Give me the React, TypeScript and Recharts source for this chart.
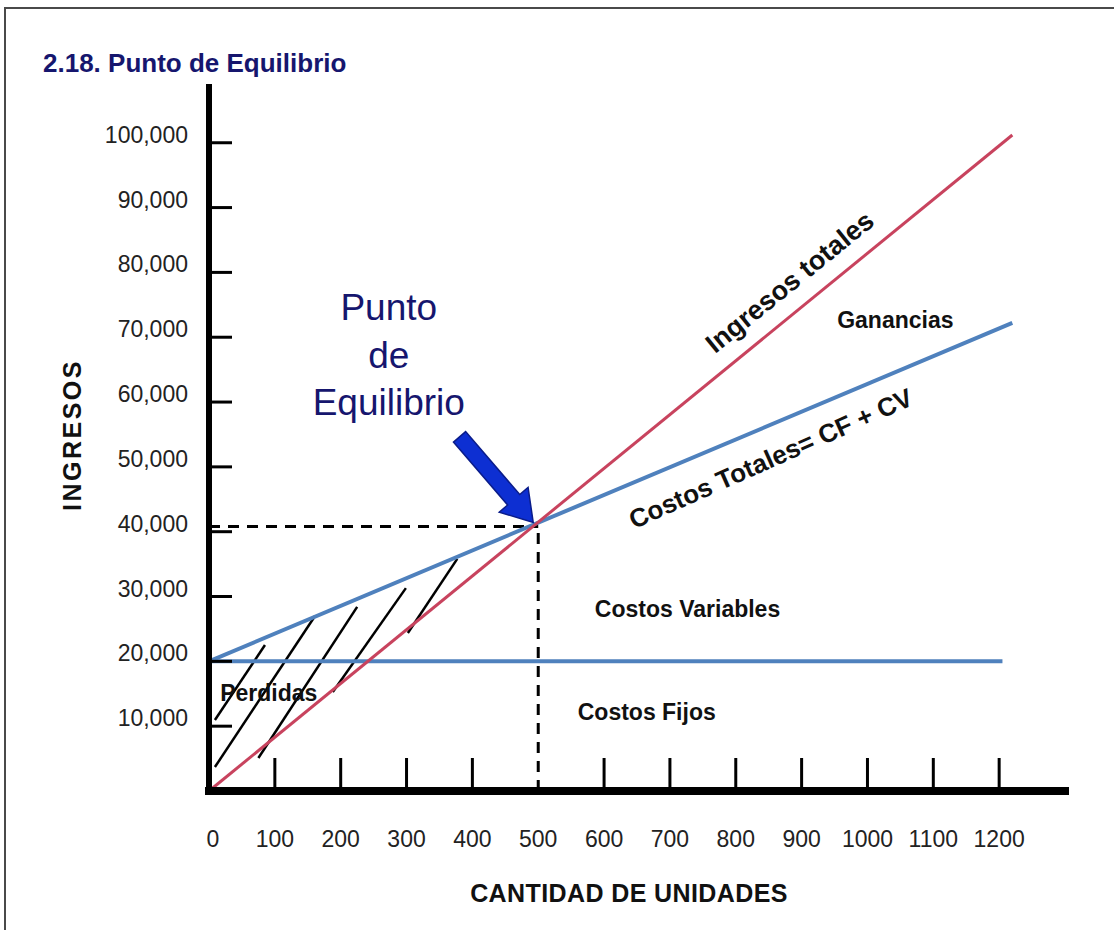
import React from "react"
import { LineChart, Line, XAxis, YAxis, ReferenceLine, ReferenceDot } from "recharts"

const FONT = "'Liberation Sans', Arial, Helvetica, sans-serif"
const NAVY = "#16166e"
const RED = "#c8435e"
const BLUE = "#4f81bd"
const ARROW = "#0d2fd2"

// axis ticks
const X_TICKS = [0, 100, 200, 300, 400, 500, 600, 700, 800, 900, 1000, 1100, 1200]
const Y_TICKS = [10000, 20000, 30000, 40000, 50000, 60000, 70000, 80000, 90000, 100000]

// lines (unidades -> pesos)
const ingresosTotales = [{ q: 0, v: 0 }, { q: 1220, v: 101200 }]
const costosTotales = [{ q: 0, v: 20000 }, { q: 1220, v: 72200 }]
const costosFijos = [{ q: 0, v: 20000 }, { q: 1205, v: 20000 }]

// punto de equilibrio
const BE_Q = 500
const BE_V = 40800

// hatch strokes in the "Perdidas" area
const hatchA = [{ q: 9, v: 10960 }, { q: 85, v: 22530 }]
const hatchB = [{ q: 9, v: 3700 }, { q: 161, v: 27000 }]
const hatchC = [{ q: 75, v: 5090 }, { q: 225, v: 28400 }]
const hatchD = [{ q: 188, v: 15280 }, { q: 299, v: 31300 }]
const hatchE = [{ q: 302, v: 24380 }, { q: 377, v: 35800 }]
const hatches = [hatchA, hatchB, hatchC, hatchD, hatchE]

// text notes placed in data units
const notes = [
  { text: "Ingresos totales", q: 882, v: 78500, angle: -39, size: 27, anchor: "middle", mid: true },
  { text: "Costos Totales= CF + CV", q: 853, v: 51300, angle: -24, size: 26, anchor: "middle", mid: true },
  { text: "Ganancias", q: 954, v: 71420, angle: 0, size: 23, anchor: "start", mid: false },
  { text: "Costos Variables", q: 586, v: 26840, angle: 0, size: 23, anchor: "start", mid: false },
  { text: "Costos Fijos", q: 560, v: 10950, angle: 0, size: 23, anchor: "start", mid: false },
  { text: "Perdidas", q: 17, v: 13880, angle: 0, size: 23, anchor: "start", mid: false },
]
const titleLines = [
  { text: "Punto", q: 273, v: 72650 },
  { text: "de", q: 273, v: 65250 },
  { text: "Equilibrio", q: 273, v: 58000 },
]

function YTick(props: any) {
  const { x, y, payload } = props
  return (
    <g>
      <line x1={x} x2={x + 23} y1={y} y2={y} stroke="#000" strokeWidth={3} />
      <text x={x - 21} y={y} textAnchor="end" fontSize={23} fill="#222" fontFamily={FONT}>
        {Number(payload.value).toLocaleString("en-US")}
      </text>
    </g>
  )
}

function XTick(props: any) {
  const { x, y, payload } = props
  const v = payload.value
  return (
    <g>
      {v !== 0 && v !== BE_Q && (
        <line x1={x} x2={x} y1={y - 33} y2={y} stroke="#000" strokeWidth={3} />
      )}
      <text x={v === 0 ? x + 4 : x} y={y + 56} textAnchor="middle" fontSize={23} fill="#222" fontFamily={FONT}>
        {v}
      </text>
    </g>
  )
}

function arrowShape(p: any) {
  // arrow tip sits on the break-even point, body goes up-left
  const pts = "0,0 -30,-19 -30,-8 -113,-8 -113,8 -30,8 -30,19"
  return (
    <polygon
      points={pts}
      transform={`translate(${p.cx - 5},${p.cy - 4}) rotate(49.3)`}
      fill={ARROW}
      stroke="#0a1c8a"
      strokeWidth={1.5}
    />
  )
}

export default function App() {
  return (
    <div style={{ position: "absolute", left: 0, top: 0, width: 1114, height: 930, background: "#fff", overflow: "hidden" }}>
      <div
        style={{
          position: "absolute", left: 4, top: 7, width: 1120, height: 930,
          borderTop: "2px solid #4a4a4a", borderLeft: "2px solid #4a4a4a",
        }}
      />
      <div
        style={{
          position: "absolute", left: 43, top: 50, fontFamily: FONT, fontSize: 26,
          fontWeight: 700, lineHeight: 1, color: NAVY, whiteSpace: "nowrap",
        }}
      >
        2.18. Punto de Equilibrio
      </div>
      <div style={{ position: "absolute", left: 0, top: 0 }}>
        <LineChart width={1114} height={930} margin={{ top: 87, right: 49, left: 59, bottom: 0 }}>
          <XAxis
            type="number"
            dataKey="q"
            domain={[0, 1300]}
            ticks={X_TICKS}
            interval={0}
            height={139}
            tickSize={0}
            tickMargin={0}
            tick={<XTick />}
            axisLine={{ stroke: "#000", strokeWidth: 8, strokeLinecap: "square" }}
            label={{
              content: (p: any) => {
                const vb = p.viewBox || { x: 209, y: 791, width: 856 }
                return (
                  <text x={vb.x + vb.width / 2 - 8} y={vb.y + 111} textAnchor="middle" fontSize={25}
                    fontWeight={700} fill="#111" fontFamily={FONT} letterSpacing={0.4}>
                    CANTIDAD DE UNIDADES
                  </text>
                )
              },
            }}
          />
          <YAxis
            type="number"
            domain={[0, 108600]}
            ticks={Y_TICKS}
            interval={0}
            width={150}
            tickSize={0}
            tickMargin={0}
            tick={<YTick />}
            axisLine={{ stroke: "#000", strokeWidth: 6, strokeLinecap: "square" }}
            label={{
              content: (p: any) => {
                const vb = p.viewBox || { x: 59, y: 87, height: 704 }
                const cx = vb.x + 13
                const cy = vb.y + vb.height / 2 - 4
                return (
                  <text x={cx} y={cy} transform={`rotate(-90, ${cx}, ${cy})`} textAnchor="middle"
                    dominantBaseline="central" fontSize={25} fontWeight={700} fill="#111"
                    fontFamily={FONT} letterSpacing={2.5}>
                    INGRESOS
                  </text>
                )
              },
            }}
          />

          <ReferenceLine
            segment={[{ x: 0, y: BE_V }, { x: BE_Q, y: BE_V }]}
            stroke="#000" strokeWidth={3} strokeDasharray="11 8"
          />
          <ReferenceLine
            segment={[{ x: BE_Q, y: 0 }, { x: BE_Q, y: BE_V }]}
            stroke="#000" strokeWidth={3} strokeDasharray="11 8"
          />

          {hatches.map((h, i) => (
            <Line key={`h${i}`} data={h} dataKey="v" stroke="#000" strokeWidth={2.5}
              dot={false} isAnimationActive={false} />
          ))}
          <Line data={costosFijos} dataKey="v" stroke={BLUE} strokeWidth={4} dot={false} isAnimationActive={false} />
          <Line data={costosTotales} dataKey="v" stroke={BLUE} strokeWidth={4} dot={false} isAnimationActive={false} />
          <Line data={ingresosTotales} dataKey="v" stroke={RED} strokeWidth={3} dot={false} isAnimationActive={false} />

          <ReferenceDot x={BE_Q} y={BE_V} r={0} ifOverflow="visible" shape={arrowShape} />

          {notes.map((n) => (
            <ReferenceDot
              key={n.text}
              x={n.q}
              y={n.v}
              r={0}
              ifOverflow="visible"
              shape={(p: any) => (
                <text
                  x={p.cx}
                  y={p.cy}
                  transform={n.angle ? `rotate(${n.angle}, ${p.cx}, ${p.cy})` : undefined}
                  textAnchor={n.anchor}
                  dominantBaseline={n.mid ? "central" : "alphabetic"}
                  fontSize={n.size}
                  fontWeight={700}
                  fill="#111"
                  fontFamily={FONT}
                >
                  {n.text}
                </text>
              )}
            />
          ))}
          {titleLines.map((t) => (
            <ReferenceDot
              key={t.text}
              x={t.q}
              y={t.v}
              r={0}
              ifOverflow="visible"
              shape={(p: any) => (
                <text x={p.cx} y={p.cy} textAnchor="middle" fontSize={37} fill={NAVY} fontFamily={FONT}>
                  {t.text}
                </text>
              )}
            />
          ))}
        </LineChart>
      </div>
    </div>
  )
}
